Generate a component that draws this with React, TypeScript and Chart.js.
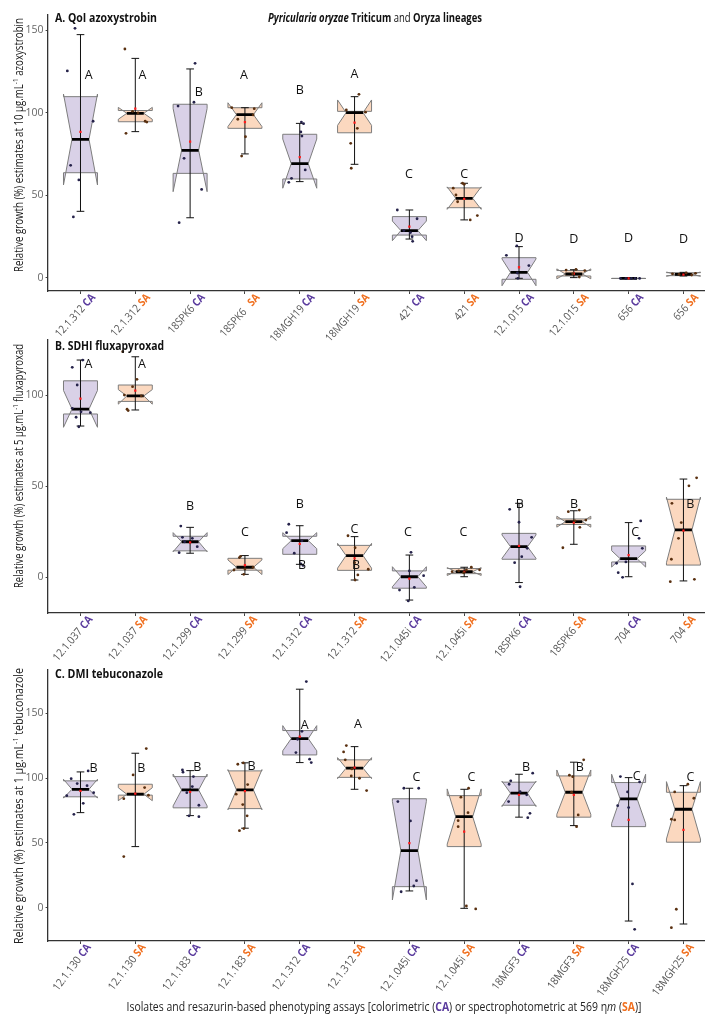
import { useEffect, useRef } from 'react';
import { Chart, registerables } from 'chart.js';

Chart.register(...registerables);

// ---------- shared ----------
const ASSAYS = ['CA', 'SA', 'CA', 'SA', 'CA', 'SA', 'CA', 'SA', 'CA', 'SA', 'CA', 'SA'];
const CA_TEXT = '#5b3c9e';
const SA_TEXT = '#f07020';
const CA_FILL = '#d9d1e7';
const SA_FILL = '#fbd8bf';
const CA_POINT = '#25224a';
const SA_POINT = '#5a3010';
const FONT = "'Open Sans', 'Noto Sans', sans-serif";

// ---------- Panel A: QoI azoxystrobin ----------
const isolatesA = ['12.1.312', '12.1.312', '18SPK6', '18SPK6  ', '18MGH19', '18MGH19', '421', '421', '12.1.015', '12.1.015', '656', '656'];
const aQ1 = [63.8, 94.7, 63.4, 90.7, 60, 88, 26, 42.6, -0.8, 1.2, -0.3, 1.4];
const aMed = [84, 99.8, 77.4, 99, 69.3, 100.2, 28.7, 48.3, 3.4, 2.4, -0.3, 2.2];
const aQ3 = [109.9, 101.5, 105.3, 103.2, 87.1, 101, 37.2, 54.6, 12.3, 4.5, -0.3, 3.2];
const aNotchLo = [56.4, 96.2, 52.3, 91.8, 54.4, 92.5, 22.6, 41.6, -4.7, -0.5, -0.3, 1.0];
const aNotchHi = [111.5, 103.4, 102.7, 106.2, 84.2, 107.9, 34.5, 55.2, 11.5, 5.5, -0.3, 3.6];
const aWhiskLo = [40.4, 88.7, 36.5, 75.2, 58.4, 68.9, 23.6, 35.2, -0.2, 0.2, -0.3, 1.2];
const aWhiskHi = [147.5, 133.1, 126.7, 103.2, 93.7, 109.9, 41.2, 57.4, 19, 5, -0.3, 3.4];
const aMean = [88.5, 102.6, 82.6, 94.5, 73.3, 94.1, 31.1, 47.9, 6.5, 2.6, -0.3, 2.0];
const aPoints = [
  [151.3, 125.5, 95, 68.3, 59.4, 37],
  [138.8, 87.7, 95, 94.5, 101, 100],
  [130.1, 106.5, 104.2, 72.5, 53.7, 33.5],
  [103.2, 96.2, 85.6, 98.8, 73.9, 102.6],
  [94.5, 93.5, 88.5, 86, 60.4, 58, 65.5],
  [111.3, 101.8, 81.6, 66.5, 90.7, 100.5],
  [41.2, 35.9, 27.5, 25, 22.2, 28.7],
  [57.4, 56.8, 54.4, 50.3, 46.2, 35.2, 37.8],
  [13.7, 19.4, 7.5, -0.2, 3],
  [4.8, 5.2, 0.6, 4.5, 2.5],
  [-0.3, -0.3, -0.3, -0.3, -0.3],
  [2.5, 2.2, 3, 1.8, 2.8],
];
const aJitter = [
  [-0.1, -0.24, 0.23, -0.18, -0.03, -0.13],
  [-0.19, -0.17, 0.18, 0.21, -0.05, 0.05],
  [0.09, 0.07, -0.22, -0.11, 0.21, -0.2],
  [-0.24, -0.13, 0.01, 0.15, -0.06, 0.17],
  [0.03, 0.07, 0.02, 0.04, -0.15, -0.2, 0.1],
  [0.08, -0.15, -0.07, -0.06, 0.05, 0.2],
  [-0.22, 0.14, 0.02, 0.05, 0.06, -0.1],
  [-0.03, 0.0, -0.2, -0.15, -0.12, 0.11, 0.24],
  [-0.23, -0.04, 0.18, -0.02, -0.03],
  [-0.14, 0.04, 0.1, 0.2, -0.02],
  [-0.15, -0.05, 0.05, 0.12, 0.2],
  [-0.2, -0.08, 0.05, 0.15, 0.22],
];
const aLetters = ['A', 'A', 'B', 'A', 'B', 'A', 'C', 'C', 'D', 'D', 'D', 'D'];
const aLetterY = [122.8, 122.8, 112.7, 122.8, 113.5, 123.6, 63, 62.6, 24.2, 23.6, 24.2, 23.6];
const aLetterDx = [0.15, 0.13, 0.16, -0.02, 0, 0, -0.01, 0, 0, 0, 0, 0];
const aTicks = [0, 50, 100, 150];

// ---------- Panel B: SDHI fluxapyroxad ----------
const isolatesB = ['12.1.037', '12.1.037', '12.1.299', '12.1.299', '12.1.312', '12.1.312', '12.1.045i', '12.1.045i', '18SPK6', '18SPK6', '704', '704'];
const bQ1 = [89.6, 96.5, 14.5, 3.9, 12.6, 3.8, -6, 2, 9.9, 29, 8.4, 6.7];
const bMed = [92.3, 99.5, 19.5, 5.5, 20.1, 11.9, 0.3, 3.1, 16.8, 30.5, 10.2, 26];
const bQ3 = [107.8, 105.5, 22.5, 10.4, 22.5, 17.5, 3.5, 4.8, 24.1, 32, 17.2, 42.8];
const bNotchLo = [82.3, 95, 14, 1.5, 15.7, 5, -5.2, 1, 10.4, 27.5, 5.6, 8];
const bNotchHi = [102.5, 103, 24.5, 9.5, 24.5, 18.6, 5.8, 5.3, 23.2, 33.5, 14.6, 44];
const bWhiskLo = [83, 91.8, 13.2, 1.6, 7.1, -1.5, -12.5, 0.3, -2.9, 18.1, 0.3, -2];
const bWhiskHi = [119.2, 121, 27.4, 11.9, 28.3, 22.3, 12.2, 5.5, 40.6, 36.5, 30, 53.9];
const bMean = [98, 102.4, 19.2, 6.6, 18.3, 10.4, -0.8, 3, 17.2, 30, 12.2, 25.6];
const bPoints = [
  [115.2, 119.2, 105.5, 92.7, 90.8, 90.3, 87.8, 82.6],
  [123.8, 108.6, 104.6, 100, 99.5, 92.2, 91.5],
  [28.1, 21.9, 21.4, 16.8, 13.5, 19.5],
  [10.8, 11.5, 4, 5.5, 1.6, 4.6],
  [29.1, 24.5, 13.2, 7.3, 6.5, 20],
  [22.8, 16.2, 1.3, -1.5, 4.4, 8],
  [-7, -13, -5.5, 13.7, 3.5, 0.9],
  [3.1, 5.5, 4.1, 2.5, 3.5, 4],
  [37.3, 30.2, 21.9, 15.9, 11.3, 8, -5.2],
  [36, 36.9, 31.4, 27.4, 16.2, 31],
  [30.9, 21.4, 15.9, 7.7, 2.5, 0, 8.4],
  [54.6, 50.2, 40.6, 30, 21.4, 9.9, -2.4, -1.1],
];
const bJitter = [
  [-0.15, 0.04, -0.06, -0.15, 0.01, 0.18, -0.08, -0.03],
  [-0.23, 0.03, -0.05, -0.2, 0.11, -0.15, -0.13],
  [-0.17, -0.14, 0.04, 0.13, -0.2, -0.1],
  [-0.1, -0.08, -0.2, 0.15, -0.02, 0],
  [-0.2, -0.24, -0.1, 0.02, 0.06, 0.04],
  [-0.12, 0.01, 0.06, 0.01, 0.25, 0],
  [-0.18, -0.02, 0.09, 0.03, 0, 0.26],
  [-0.22, 0.13, 0.28, -0.01, -0.1, 0.04],
  [-0.17, 0, 0.23, 0.15, 0.05, -0.08, 0.02],
  [-0.1, 0.1, 0.22, 0.11, -0.2, 0.02],
  [0.22, 0.19, 0.25, -0.22, -0.19, -0.11, -0.05],
  [0.24, 0.1, -0.21, -0.04, -0.09, -0.22, -0.24, 0.2],
];
const bLetters = ['A', 'A', 'B', 'C', 'B', 'C', 'C', 'C', 'B', 'B', 'C', 'B'];
const bLetterY = [117, 117, 38.7, 24.7, 39.7, 26, 24.7, 24.7, 39.7, 39.7, 24.7, 39.7];
const bLetterDx = [0.145, 0.12, 0, 0, 0, 0, -0.025, -0.013, 0.013, 0.005, 0.12, 0.127];
const bExtraLetters = ['B', 'B'];
const bExtraCat = [4, 5];
const bExtraY = [6.4, 6.7];
const bExtraDx = [0.04, 0.025];
const bTicks = [0, 50, 100];

// ---------- Panel C: DMI tebuconazole ----------
const isolatesC = ['12.1.130', '12.1.130', '12.1.183', '12.1.183', '12.1.312', '12.1.312', '12.1.045i', '12.1.045i', '18MGF3', '18MGF3', '18MGH25', '18MGH25'];
const cQ1 = [85.5, 86.8, 77, 76.4, 117.8, 100.5, 16.2, 47.1, 79, 69.8, 62.5, 50.5];
const cMed = [91.3, 87.5, 90.8, 90.8, 130.4, 107.6, 44, 70.2, 88.3, 89, 83.9, 75.9];
const cQ3 = [97.8, 95.2, 101.1, 105.5, 136.6, 114, 84, 86.4, 96.8, 101.6, 96.5, 89];
const cNotchLo = [84.5, 82.5, 78.5, 75.5, 121, 99.5, 6, 49, 78, 72, 65, 53];
const cNotchHi = [99, 92.5, 103, 106.5, 140.4, 115.7, 82, 91.6, 97.5, 106.2, 102.9, 97.2];
const cWhiskLo = [73.3, 47.1, 71, 61.3, 111.9, 91.3, 12.9, -0.5, 69.8, 63.3, -10.3, -12.6];
const cWhiskHi = [104.7, 119.1, 105.7, 111.7, 168.5, 124.2, 92.1, 91.3, 102.9, 112.2, 100.3, 94.1];
const cMean = [90, 88, 89.3, 89.8, 132, 108, 49.7, 58.6, 87, 87, 67.7, 60];
const cPoints = [
  [99.5, 105.5, 95.7, 94.1, 88.7, 86.4, 80.5, 72],
  [102.4, 122.7, 92.6, 86.7, 84.1, 39.4],
  [106.2, 104.5, 101.1, 93.4, 88.7, 79, 70.2, 70.8],
  [110.6, 111.6, 94.9, 87.5, 79.5, 70.8, 59.4, 61],
  [174.4, 129.9, 119.6, 114.5, 111.9, 136],
  [125, 120.1, 114, 101.6, 99.8, 90.3, 107],
  [92.1, 92.1, 81.8, 66.9, 12.3, 16.7, 20.8],
  [92.1, 85.2, 73.3, 67.1, 62.5, 1.3, -1],
  [97.8, 103.7, 95.2, 89.5, 87, 81.8, 72.8, 69.4],
  [114, 102.2, 101, 71.5, 62.5, 89],
  [101.1, 89.3, 78.7, 77.2, 97, 18.3, -16.7],
  [95.2, 89.3, 84.4, 68.2, 67.7, -1.2, -15.4],
];
const cJitter = [
  [-0.17, 0.14, -0.06, 0.12, 0.24, -0.25, 0.05, -0.12],
  [-0.04, 0.2, 0.17, 0.24, -0.21, -0.21],
  [-0.14, -0.13, 0.06, 0.04, -0.06, 0.16, 0.16, -0.02],
  [-0.13, -0.03, 0.05, -0.16, -0.04, 0.04, -0.1, -0.02],
  [0.12, -0.04, -0.07, 0.18, 0.21, 0.04],
  [-0.15, -0.2, -0.17, -0.06, 0.09, 0.22, -0.05],
  [-0.1, 0.17, -0.21, 0.02, -0.15, 0.08, 0.13],
  [0.08, -0.06, 0.07, -0.11, -0.11, 0.04, 0.21],
  [-0.15, 0.25, -0.18, 0.02, 0.14, -0.19, 0.2, 0.16],
  [0.18, -0.08, -0.02, 0.08, 0.05, -0.04],
  [-0.15, -0.02, -0.2, 0, 0.2, 0.07, 0.11],
  [0.08, -0.16, 0.19, -0.22, -0.16, -0.13, -0.22],
];
const cLetters = ['B', 'B', 'B', 'B', 'A', 'A', 'C', 'C', 'B', 'B', 'C', 'C'];
const cLetterY = [107.6, 107.6, 108, 108.8, 140.4, 141, 100.6, 100.6, 108, 108, 101, 100.3];
const cLetterDx = [0.24, 0.11, 0.13, 0.12, 0.09, 0.06, 0.13, 0.13, 0.13, 0.11, 0.145, 0.127];
const cTicks = [0, 50, 100, 150];

// ---------- helpers ----------
type Seg = { t: string; font: string; color: string; dy?: number };

function richWidth(ctx: CanvasRenderingContext2D, segs: Seg[]) {
  let w = 0;
  for (const s of segs) {
    ctx.font = s.font;
    w += ctx.measureText(s.t).width;
  }
  return w;
}

function drawRich(
  ctx: CanvasRenderingContext2D,
  segs: Seg[],
  x: number,
  y: number,
  align: 'left' | 'center' | 'right',
  baseline: CanvasTextBaseline,
  width?: number,
  sx?: number,
  rotate?: number
) {
  const w = richWidth(ctx, segs);
  const scale = width ? width / w : sx || 1;
  ctx.save();
  ctx.translate(x, y);
  if (rotate) ctx.rotate(rotate);
  ctx.scale(scale, 1);
  let cur = align === 'left' ? 0 : align === 'center' ? -w / 2 : -w;
  ctx.textAlign = 'left';
  ctx.textBaseline = baseline;
  for (const s of segs) {
    ctx.font = s.font;
    ctx.fillStyle = s.color;
    ctx.fillText(s.t, cur, s.dy || 0);
    cur += ctx.measureText(s.t).width;
  }
  ctx.restore();
}

const BOX_HALF = 0.31;
const CAP_HALF = 0.07;
const X_MIN = -0.6;
const X_MAX = 11.375;

type Panel = {
  key: string;
  isolates: string[];
  q1: number[]; med: number[]; q3: number[];
  nLo: number[]; nHi: number[];
  wLo: number[]; wHi: number[];
  mean: number[];
  points: number[][]; jitter: number[][];
  letters: string[]; letterY: number[]; letterDx: number[];
  extra?: { l: string[]; cat: number[]; y: number[]; dx: number[] };
  ticks: number[];
  yMin: number; yMax: number;
  height: number; top: number; plotTop: number; plotBottom: number;
  title: string; titleY: number; titleW: number;
  yTitle: Seg[]; yTitleY: number; yTitleW: number;
  labelAngle: number; labelDx: number; labelSx: number;
  mainTitle?: boolean;
  xTitle?: boolean;
};

const yTitleFont = `12px ${FONT}`;
const supFont = `8px ${FONT}`;
const TXT = '#222222';

const panels: Panel[] = [
  {
    key: 'A', isolates: isolatesA,
    q1: aQ1, med: aMed, q3: aQ3, nLo: aNotchLo, nHi: aNotchHi, wLo: aWhiskLo, wHi: aWhiskHi, mean: aMean,
    points: aPoints, jitter: aJitter, letters: aLetters, letterY: aLetterY, letterDx: aLetterDx,
    ticks: aTicks, yMin: -7.9, yMax: 159.4,
    height: 345, top: 0, plotTop: 15, plotBottom: 291,
    title: 'A. QoI azoxystrobin', titleY: 18, titleW: 102,
    yTitle: [
      { t: 'Relative growth (%) estimates at 10 µg.mL', font: yTitleFont, color: TXT },
      { t: '-1', font: supFont, color: TXT, dy: -4 },
      { t: ' azoxystrobin', font: yTitleFont, color: TXT },
    ],
    yTitleY: 145, yTitleW: 254, mainTitle: true,
    labelAngle: 48, labelDx: 9, labelSx: 0.95,
  },
  {
    key: 'B', isolates: isolatesB,
    q1: bQ1, med: bMed, q3: bQ3, nLo: bNotchLo, nHi: bNotchHi, wLo: bWhiskLo, wHi: bWhiskHi, mean: bMean,
    points: bPoints, jitter: bJitter, letters: bLetters, letterY: bLetterY, letterDx: bLetterDx,
    extra: { l: bExtraLetters, cat: bExtraCat, y: bExtraY, dx: bExtraDx },
    ticks: bTicks, yMin: -19.6, yMax: 130.2,
    height: 345, top: 330, plotTop: 10, plotBottom: 283,
    title: 'B. SDHI fluxapyroxad', titleY: 16, titleW: 109,
    yTitle: [
      { t: 'Relative growth (%) estimates at 5 µg.mL', font: yTitleFont, color: TXT },
      { t: '-1', font: supFont, color: TXT, dy: -4 },
      { t: ' fluxapyroxad', font: yTitleFont, color: TXT },
    ],
    yTitleY: 136, yTitleW: 244,
    labelAngle: 50, labelDx: 6, labelSx: 0.97,
  },
  {
    key: 'C', isolates: isolatesC,
    q1: cQ1, med: cMed, q3: cQ3, nLo: cNotchLo, nHi: cNotchHi, wLo: cWhiskLo, wHi: cWhiskHi, mean: cMean,
    points: cPoints, jitter: cJitter, letters: cLetters, letterY: cLetterY, letterDx: cLetterDx,
    ticks: cTicks, yMin: -25.7, yMax: 183.3,
    height: 356, top: 660, plotTop: 10, plotBottom: 281,
    title: 'C. DMI tebuconazole', titleY: 14.5, titleW: 108,
    yTitle: [
      { t: 'Relative growth (%) estimates at 1 µg.mL', font: yTitleFont, color: TXT },
      { t: '-1', font: supFont, color: TXT, dy: -4 },
      { t: ' tebuconazole', font: yTitleFont, color: TXT },
    ],
    yTitleY: 146, yTitleW: 276, xTitle: true,
    labelAngle: 53, labelDx: 4, labelSx: 0.98,
  },
];

function makePlugin(p: Panel) {
  return {
    id: 'boxpanel' + p.key,
    beforeDatasetsDraw(chart: any) {
      const ctx: CanvasRenderingContext2D = chart.ctx;
      const xs = chart.scales.x;
      const ys = chart.scales.y;
      const a = chart.chartArea;
      const Y = (v: number) => ys.getPixelForValue(v);
      ctx.save();
      ctx.beginPath();
      ctx.rect(a.left, a.top, a.right - a.left, a.bottom - a.top);
      ctx.clip();
      for (let i = 0; i < p.isolates.length; i++) {
        const cx = xs.getPixelForValue(i);
        const half = xs.getPixelForValue(i + BOX_HALF) - cx;
        const cap = xs.getPixelForValue(i + CAP_HALF) - cx;
        const ind = half / 2;
        const fill = ASSAYS[i] === 'CA' ? CA_FILL : SA_FILL;
        ctx.beginPath();
        ctx.moveTo(cx - half, Y(p.q3[i]));
        ctx.lineTo(cx - half, Y(p.nHi[i]));
        ctx.lineTo(cx - half + ind, Y(p.med[i]));
        ctx.lineTo(cx - half, Y(p.nLo[i]));
        ctx.lineTo(cx - half, Y(p.q1[i]));
        ctx.lineTo(cx + half, Y(p.q1[i]));
        ctx.lineTo(cx + half, Y(p.nLo[i]));
        ctx.lineTo(cx + half - ind, Y(p.med[i]));
        ctx.lineTo(cx + half, Y(p.nHi[i]));
        ctx.lineTo(cx + half, Y(p.q3[i]));
        ctx.closePath();
        ctx.fillStyle = fill;
        ctx.fill();
        ctx.strokeStyle = '#7d7d7d';
        ctx.lineWidth = 1;
        ctx.stroke();
        // whiskers
        ctx.strokeStyle = '#111';
        ctx.lineWidth = 1;
        ctx.beginPath();
        ctx.moveTo(cx, Y(p.wLo[i]));
        ctx.lineTo(cx, Y(p.wHi[i]));
        ctx.moveTo(cx - cap, Y(p.wLo[i]));
        ctx.lineTo(cx + cap, Y(p.wLo[i]));
        ctx.moveTo(cx - cap, Y(p.wHi[i]));
        ctx.lineTo(cx + cap, Y(p.wHi[i]));
        ctx.stroke();
        // median
        ctx.strokeStyle = '#000';
        ctx.lineWidth = 2.8;
        ctx.beginPath();
        ctx.moveTo(cx - half + ind, Y(p.med[i]));
        ctx.lineTo(cx + half - ind, Y(p.med[i]));
        ctx.stroke();
      }
      ctx.restore();
    },
    afterDraw(chart: any) {
      const ctx: CanvasRenderingContext2D = chart.ctx;
      const xs = chart.scales.x;
      const ys = chart.scales.y;
      const a = chart.chartArea;
      const unit = xs.getPixelForValue(1) - xs.getPixelForValue(0);
      // letters
      const letterFont = `12.5px ${FONT}`;
      ctx.save();
      ctx.font = letterFont;
      ctx.fillStyle = '#111';
      ctx.textAlign = 'center';
      ctx.textBaseline = 'middle';
      for (let i = 0; i < p.letters.length; i++) {
        ctx.fillText(p.letters[i], xs.getPixelForValue(i) + p.letterDx[i] * unit, ys.getPixelForValue(p.letterY[i]));
      }
      if (p.extra) {
        for (let k = 0; k < p.extra.l.length; k++) {
          ctx.fillText(p.extra.l[k], xs.getPixelForValue(p.extra.cat[k]) + p.extra.dx[k] * unit, ys.getPixelForValue(p.extra.y[k]));
        }
      }
      ctx.restore();
      // panel title
      drawRich(ctx, [{ t: p.title, font: `bold 12.5px ${FONT}`, color: '#111' }], 55, p.titleY, 'left', 'middle', p.titleW);
      if (p.mainTitle) {
        const f = `12.5px ${FONT}`;
        drawRich(ctx, [
          { t: 'Pyricularia oryzae', font: `italic bold ${f}`, color: '#111' },
          { t: ' Triticum', font: `bold ${f}`, color: '#111' },
          { t: ' and ', font: f, color: '#111' },
          { t: 'Oryza lineages', font: `bold ${f}`, color: '#111' },
        ], 268, p.titleY, 'left', 'middle', 214);
      }
      // y title
      drawRich(ctx, p.yTitle, 20, p.yTitleY, 'center', 'middle', p.yTitleW, undefined, -Math.PI / 2);
      // x tick labels
      const ang = (p.labelAngle * Math.PI) / 180;
      for (let i = 0; i < p.isolates.length; i++) {
        const tx = xs.getPixelForValue(i);
        const isCA = ASSAYS[i] === 'CA';
        drawRich(ctx, [
          { t: p.isolates[i] + ' ', font: `11px ${FONT}`, color: '#555' },
          { t: ASSAYS[i], font: `bold 11px ${FONT}`, color: isCA ? CA_TEXT : SA_TEXT },
        ], tx + p.labelDx, a.bottom + 1, 'right', 'top', undefined, p.labelSx * 0.93, -ang);
      }
      if (p.xTitle) {
        const f = `12px ${FONT}`;
        drawRich(ctx, [
          { t: 'Isolates and resazurin-based phenotyping assays [colorimetric (', font: f, color: TXT },
          { t: 'CA', font: `bold ${f}`, color: CA_TEXT },
          { t: ') or spectrophotometric at 569 η', font: f, color: TXT },
          { t: 'm', font: `italic ${f}`, color: TXT },
          { t: ' (', font: f, color: TXT },
          { t: 'SA', font: `bold ${f}`, color: SA_TEXT },
          { t: ')]', font: f, color: TXT },
        ], 384, 348, 'center', 'middle', 515);
      }
    },
  };
}

function PanelChart({ p }: { p: Panel }) {
  const ref = useRef<HTMLCanvasElement | null>(null);
  useEffect(() => {
    if (!ref.current) return;
    const caPts: { x: number; y: number }[] = [];
    const saPts: { x: number; y: number }[] = [];
    p.points.forEach((vals, i) => {
      vals.forEach((v, j) => {
        const pt = { x: i + p.jitter[i][j], y: v };
        if (ASSAYS[i] === 'CA') caPts.push(pt);
        else saPts.push(pt);
      });
    });
    const meanPts = p.mean.map((v, i) => ({ x: i, y: v }));
    const chart = new Chart(ref.current, {
      type: 'scatter',
      data: {
        datasets: [
          { data: caPts, pointRadius: 1.4, pointBackgroundColor: CA_POINT, pointBorderWidth: 0, pointHoverRadius: 1.4 },
          { data: saPts, pointRadius: 1.4, pointBackgroundColor: SA_POINT, pointBorderWidth: 0, pointHoverRadius: 1.4 },
          { data: meanPts, pointRadius: 1.6, pointStyle: 'rect', pointBackgroundColor: '#ff1a1a', pointBorderWidth: 0 },
        ],
      },
      options: {
        animation: false,
        responsive: false,
        devicePixelRatio: 1,
        events: [],
        layout: { padding: { top: p.plotTop, left: 0, right: 0, bottom: 0 } },
        plugins: { legend: { display: false }, tooltip: { enabled: false }, title: { display: false } },
        scales: {
          x: {
            type: 'linear',
            min: X_MIN,
            max: X_MAX,
            afterBuildTicks: (s: any) => {
              s.ticks = p.isolates.map((_, i) => ({ value: i }));
            },
            afterFit: (s: any) => {
              s.height = p.height - p.plotBottom;
            },
            ticks: { display: false },
            grid: { drawOnChartArea: false, drawTicks: true, tickLength: 3, color: '#444' },
            border: { display: true, color: '#333', width: 1.3 },
          },
          y: {
            type: 'linear',
            min: p.yMin,
            max: p.yMax,
            afterBuildTicks: (s: any) => {
              s.ticks = p.ticks.map((v) => ({ value: v }));
            },
            afterFit: (s: any) => {
              s.width = 47.6;
            },
            ticks: { color: '#666', font: { family: FONT, size: 10.5 }, padding: 2 },
            grid: { drawOnChartArea: false, drawTicks: true, tickLength: 2, color: '#444' },
            border: { display: true, color: '#333', width: 1.3 },
          },
        },
      },
      plugins: [makePlugin(p)],
    } as any);
    return () => chart.destroy();
  }, [p]);
  return (
    <canvas
      ref={ref}
      width={708}
      height={p.height}
      style={{ position: 'absolute', left: 0, top: p.top, width: 708, height: p.height }}
    />
  );
}

export default function App() {
  useEffect(() => {
    document.body.style.margin = '0';
    document.body.style.overflow = 'hidden';
  }, []);
  return (
    <div style={{ position: 'relative', width: 708, height: 1016, overflow: 'hidden', background: '#fff' }}>
      {panels.map((p) => (
        <PanelChart key={p.key} p={p} />
      ))}
    </div>
  );
}
